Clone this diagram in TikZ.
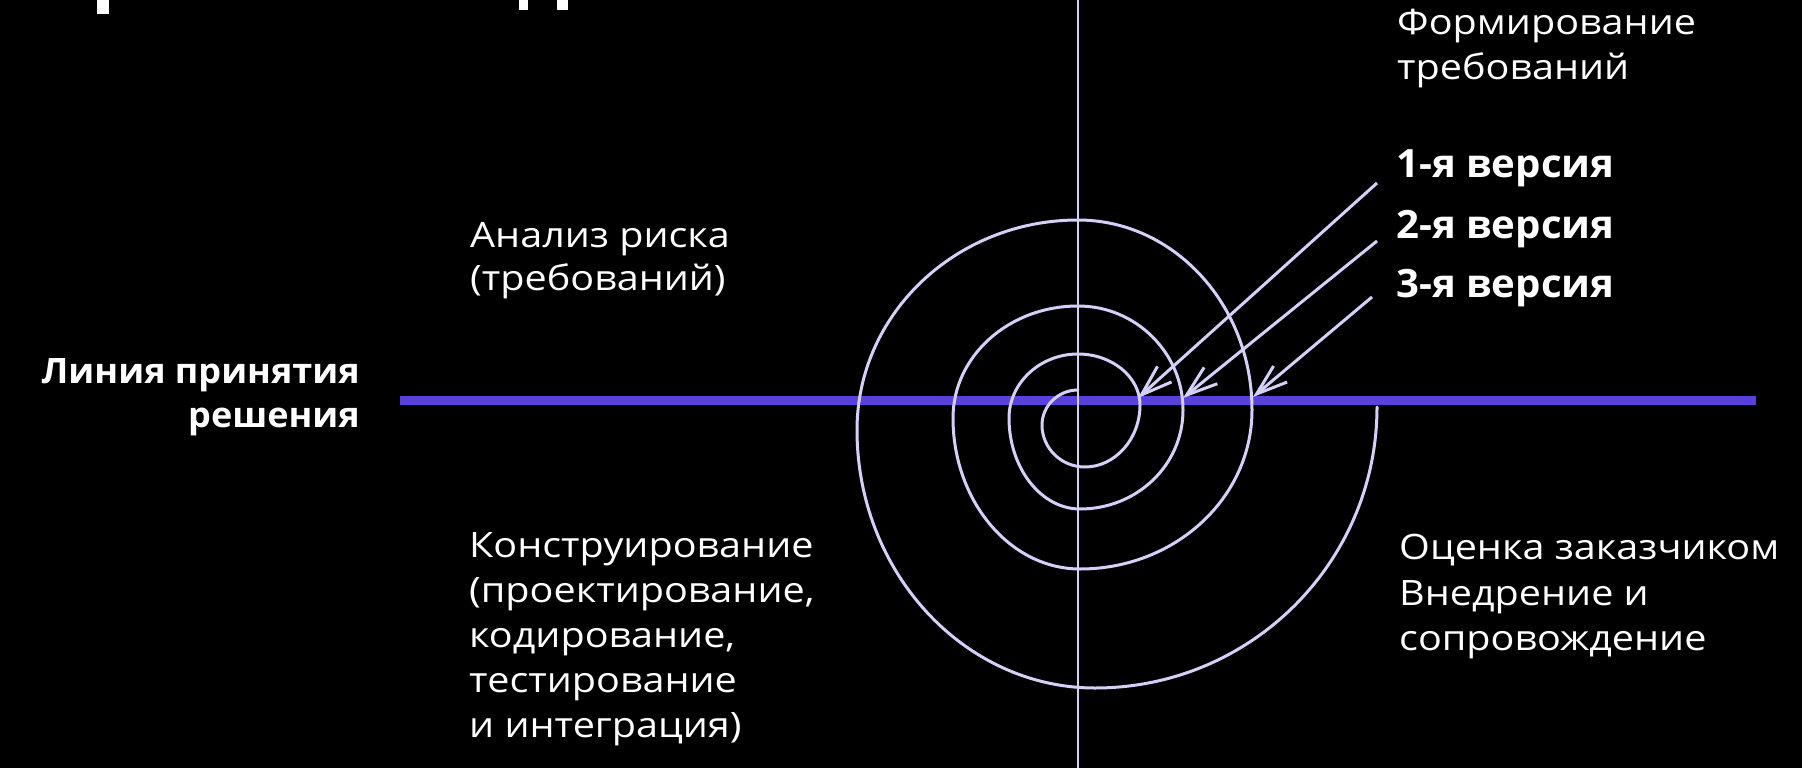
\documentclass[tikz,border=0pt]{standalone}
\usepackage{fontspec}
\setmainfont{Open Sans}[FakeStretch=1.13]
\newfontfamily\boldfam{Open Sans}[FakeStretch=1.03]
\usetikzlibrary{arrows.meta}
\definecolor{lav}{RGB}{212,208,248}
\definecolor{decline}{RGB}{90,64,220}
\begin{document}
\begin{tikzpicture}[x=1pt,y=-1pt,
  lbl/.style={text=white, inner sep=0pt, anchor=base west, font=\fontsize{35}{44}\selectfont},
  lblb/.style={lbl, font=\boldfam\fontsize{35}{44}\selectfont\bfseries},
  lblv/.style={lbl, font=\boldfam\fontsize{39}{44}\selectfont\bfseries},
  lblr/.style={lblb, anchor=base east},
  spiral/.style={draw=lav, line width=3pt, line cap=round},
  axis/.style={draw=lav, line width=2.6pt},
  decision/.style={draw=decline, line width=9pt},
  arr/.style={draw=lav, line width=3pt, -{Straight Barb[length=31pt,width=21pt]}},
  frag/.style={fill=white}]
\fill[black] (0,0) rectangle (1802,768);
\useasboundingbox (0,0) rectangle (1802,768);
% title fragments cut off at the top
\fill[frag] (97,0) rectangle (109,14);
\fill[frag] (519,0) rectangle (528,10);
\fill[frag] (557,0) rectangle (568,10);
% decision line
\coordinate (dl) at (400,400);
\coordinate (dr) at (1756,400);
\draw[decision] (dl) -- (dr);
% vertical axis
\coordinate (vt) at (1078,0);
\coordinate (vb) at (1078,768);
\draw[axis] (vt) -- (vb);
% spiral
\draw[spiral] (1078,390) .. controls (1058,390) and (1042,406) .. (1042,425)
 .. controls (1042,448) and (1061,467) .. (1085,467)
 .. controls (1115,467) and (1140,439) .. (1140,405)
 .. controls (1140,377) and (1112,354) .. (1078,354)
 .. controls (1040,354) and (1009,383) .. (1009,418)
 .. controls (1009,468) and (1041,509) .. (1080,509)
 .. controls (1137,509) and (1183,465) .. (1183,410)
 .. controls (1183,353) and (1136,306) .. (1078,306)
 .. controls (1009,306) and (953,356) .. (953,418)
 .. controls (953,501) and (1010,569) .. (1080,569)
 .. controls (1175,569) and (1252,498) .. (1252,410)
 .. controls (1252,305) and (1174,220) .. (1078,220)
 .. controls (956,220) and (857,314) .. (857,430)
 .. controls (857,572) and (964,688) .. (1095,688)
 .. controls (1251,688) and (1377,562) .. (1377,407);
% labels
\node[lblr] (dec1) at (360,383) {Линия принятия};
\node[lblr] (dec2) at (360,427) {решения};
\node[lbl] (risk1) at (470,247) {Анализ риска};
\node[lbl] (risk2) at (470,290) {(требований)};
\node[lbl] (req1) at (1397,35) {Формирование};
\node[lbl] (req2) at (1397,80) {требований};
\node[lblv] (v1) at (1396,177) {1-я версия};
\node[lblv] (v2) at (1396,238) {2-я версия};
\node[lblv] (v3) at (1396,297) {3-я версия};
\node[lbl] (con1) at (469,557) {Конструирование};
\node[lbl] (con2) at (469,602) {(проектирование,};
\node[lbl] (con3) at (469,647) {кодирование,};
\node[lbl] (con4) at (469,692) {тестирование};
\node[lbl] (con5) at (469,737) {и интеграция)};
\node[lbl] (ev1) at (1399,559) {Оценка заказчиком};
\node[lbl] (ev2) at (1399,605) {Внедрение и};
\node[lbl] (ev3) at (1399,650) {сопровождение};
% arrows
\coordinate (a1) at (1377,183);
\coordinate (a2) at (1377,241);
\coordinate (a3) at (1372,297);
\coordinate (t1) at (1138,398);
\coordinate (t2) at (1183,398);
\coordinate (t3) at (1253,397);
\draw[arr] (a1) -- (t1);
\draw[arr] (a2) -- (t2);
\draw[arr] (a3) -- (t3);
\end{tikzpicture}
\end{document}
